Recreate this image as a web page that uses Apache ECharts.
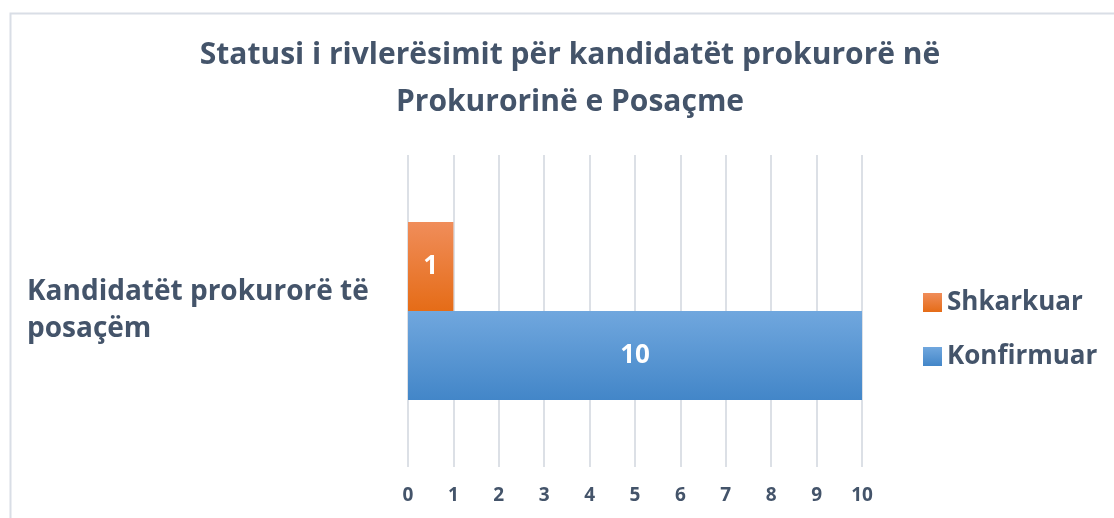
<!DOCTYPE html>
<html>
<head>
<meta charset="utf-8">
<script src="https://cdn.jsdelivr.net/npm/echarts@6/dist/echarts.min.js"></script>
<style>html,body{margin:0;padding:0;background:#fff;}#c{width:1114px;height:518px;}</style>
</head>
<body>
<div id="c"></div>
<script>
const titleText = "Statusi i rivlerësimit për kandidatët prokurorë në\nProkurorinë e Posaçme";
const categories = ["Kandidatët prokurorë të\nposaçëm"];
const seriesNames = ["Shkarkuar", "Konfirmuar"];
const shkarkuar = [1];
const konfirmuar = [10];
const xTicks = [0, 10, 1];

const FONT = "Open Sans";
const TXT = "#44546A";
const chart = echarts.init(document.getElementById('c'));
function grad(top, bottom){
  return new echarts.graphic.LinearGradient(0,0,0,1,[{offset:0,color:top},{offset:1,color:bottom}]);
}
const labelStyle = {show:true, position:'inside', color:'#fff', fontFamily:FONT, fontWeight:'bold', fontSize:26};
chart.setOption({
  animation:false,
  backgroundColor:'#fff',
  title:{text:titleText, left:565, textAlign:'center', top:27, textStyle:{fontFamily:FONT, fontWeight:'bold', fontSize:30, color:TXT, lineHeight:47}},
  graphic:[{type:'rect', left:8, top:11, shape:{width:1300, height:700}, style:{fill:'none', stroke:'#D9DEE6', lineWidth:2}, silent:true}],
  legend:{orient:'vertical', left:918, top:280, itemGap:19, itemWidth:19, itemHeight:19, icon:'rect', data:seriesNames,
    textStyle:{fontFamily:FONT, fontWeight:'bold', fontSize:26, color:TXT, lineHeight:35}},
  grid:{left:408, right:252, top:155, bottom:51},
  xAxis:{type:'value', min:xTicks[0], max:xTicks[1], interval:xTicks[2],
    axisLine:{show:false}, axisTick:{show:false},
    splitLine:{show:true, lineStyle:{color:'#DCE0E6', width:2}},
    axisLabel:{margin:19, fontFamily:FONT, fontWeight:'bold', fontSize:19, color:TXT}},
  yAxis:{type:'category', data:categories, axisLine:{show:false}, axisTick:{show:false},
    axisLabel:{align:'left', margin:381, fontFamily:FONT, fontWeight:'bold', fontSize:28, color:TXT, lineHeight:37}},
  series:[
    {name:seriesNames[0], type:'bar', data:shkarkuar, barGap:'0%', barCategoryGap:'43%',
      itemStyle:{color:grad('#F08D5A','#E56C17')}, label:labelStyle},
    {name:seriesNames[1], type:'bar', data:konfirmuar, barGap:'0%', barCategoryGap:'43%',
      itemStyle:{color:grad('#70A7DE','#4386C8')}, label:labelStyle}
  ]
});
</script>
</body>
</html>
